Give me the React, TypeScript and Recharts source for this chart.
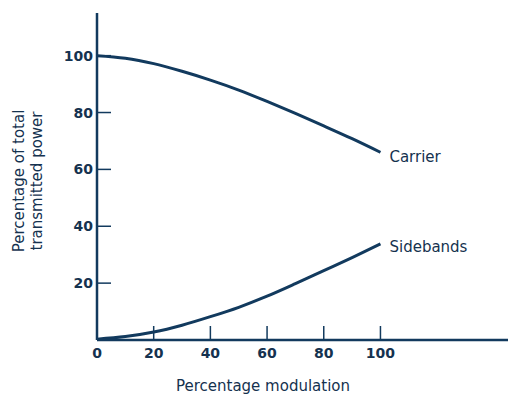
import React from 'react';
import { LineChart, Line, XAxis, YAxis, Label } from 'recharts';

const modulation = [0, 10, 20, 30, 40, 50, 60, 70, 80, 90, 100];
const carrier = [100, 99.1, 97.2, 94.5, 91.4, 87.9, 83.9, 79.7, 75.3, 70.8, 66.0];
const sidebands = [0.3, 1.2, 2.8, 5.2, 8.2, 11.5, 15.4, 19.8, 24.4, 29.0, 33.8];
const xTicks = [0, 20, 40, 60, 80, 100];
const yTicks = [20, 40, 60, 80, 100];

const data = modulation.map((m, i) => ({ m, carrier: carrier[i], sidebands: sidebands[i] }));

const INK = '#15324f';
const LINE = '#123a5e';
const FONT = '"DejaVu Sans", sans-serif';

const XTick = (props: any) => {
  const { x, y, payload } = props;
  const v = payload.value;
  return (
    <g>
      {v !== 0 && <line x1={x} x2={x} y1={y} y2={y - 14} stroke={LINE} strokeWidth={1.5} />}
      <text x={x} y={y + 18} textAnchor="middle" fill={INK} fontFamily={FONT} fontWeight="bold" fontSize={14}>
        {v}
      </text>
    </g>
  );
};

const YTick = (props: any) => {
  const { x, y, payload } = props;
  return (
    <g>
      <line x1={x} x2={x + 14} y1={y} y2={y} stroke={LINE} strokeWidth={1.5} />
      <text x={x - 4} y={y + 5} textAnchor="end" fill={INK} fontFamily={FONT} fontWeight="bold" fontSize={14}>
        {payload.value}
      </text>
    </g>
  );
};

const endLabel = (text: string, dy: number) => (props: any) => {
  const { x, y, index } = props;
  if (index !== data.length - 1) return null;
  return (
    <text key={text} x={x + 9} y={y + dy} fill={INK} fontFamily={FONT} fontSize={15}>
      {text}
    </text>
  );
};

export default function App() {
  return (
    <div style={{ position: 'absolute', left: 0, top: 0, background: '#fff' }}>
      <LineChart width={508} height={395} data={data} margin={{ top: 13, right: 0, left: 0, bottom: 0 }}>
        <XAxis
          dataKey="m"
          type="number"
          domain={[0, 145]}
          ticks={xTicks}
          allowDataOverflow
          height={55}
          tickSize={0}
          tickMargin={0}
          tickLine={false}
          axisLine={{ stroke: LINE, strokeWidth: 2.5 }}
          tick={<XTick />}
        >
          <Label
            content={() => (
              <text x={263} y={391} textAnchor="middle" fill={INK} fontFamily={FONT} fontSize={15}>
                Percentage modulation
              </text>
            )}
          />
        </XAxis>
        <YAxis
          type="number"
          domain={[0, 115]}
          ticks={yTicks}
          allowDataOverflow
          width={97}
          tickSize={0}
          tickMargin={0}
          tickLine={false}
          axisLine={{ stroke: LINE, strokeWidth: 2.5 }}
          tick={<YTick />}
        >
          <Label
            content={() => (
              <g>
                <text transform="translate(24,181) rotate(-90)" textAnchor="middle" fill={INK} fontFamily={FONT} fontSize={15}>
                  Percentage of total
                </text>
                <text transform="translate(42,181) rotate(-90)" textAnchor="middle" fill={INK} fontFamily={FONT} fontSize={15}>
                  transmitted power
                </text>
              </g>
            )}
          />
        </YAxis>
        <Line
          dataKey="carrier"
          type="monotone"
          stroke={LINE}
          strokeWidth={3}
          dot={false}
          isAnimationActive={false}
          label={endLabel('Carrier', 10)}
        />
        <Line
          dataKey="sidebands"
          type="monotone"
          stroke={LINE}
          strokeWidth={3}
          dot={false}
          isAnimationActive={false}
          label={endLabel('Sidebands', 8)}
        />
      </LineChart>
    </div>
  );
}
